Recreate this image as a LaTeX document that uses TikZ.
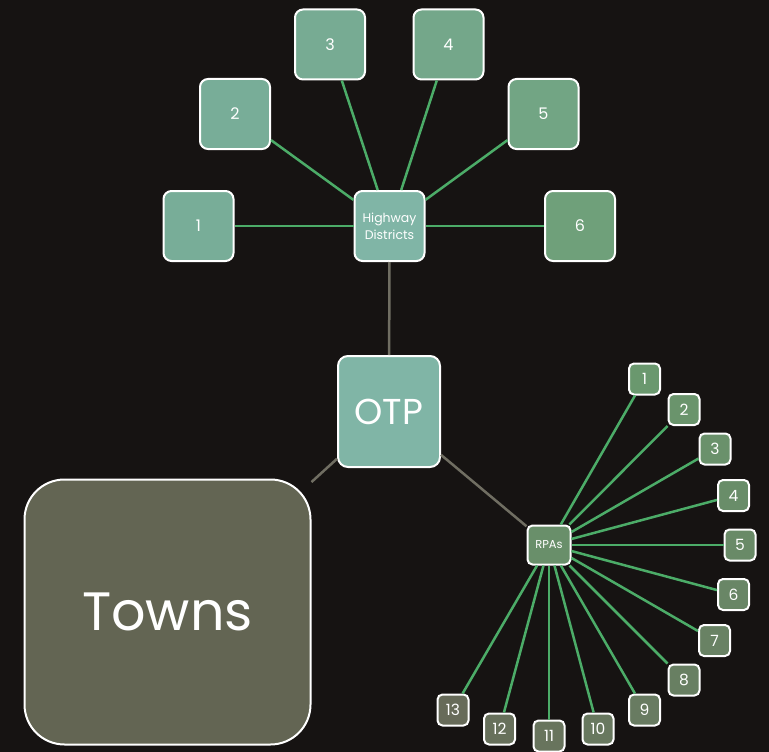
\documentclass[tikz,border=0pt]{standalone}
\usepackage{fontspec}
\setmainfont{Poppins}
\usepackage{xcolor}
\usetikzlibrary{positioning}
\definecolor{bgdark}{RGB}{22, 19, 18}
\definecolor{edgegreen}{RGB}{76, 172, 104}
\definecolor{edgegray}{RGB}{112, 110, 98}
\definecolor{hubteal}{RGB}{128, 181, 166}
\definecolor{distteal}{RGB}{120, 173, 152}
\definecolor{distgreen}{RGB}{111, 160, 122}
\definecolor{rpagreen}{RGB}{106, 152, 110}
\definecolor{rpaolive}{RGB}{103, 107, 89}
\definecolor{townolive}{RGB}{99, 101, 83}

\begin{document}
\begin{tikzpicture}[x=1pt,y=-1pt,
    box/.style={draw=white,line width=2pt,rounded corners=8pt,text=white,inner sep=0pt,align=center},
    distbox/.style={box,minimum width=70pt,minimum height=70pt,font=\fontsize{16}{18}\selectfont},
    rpabox/.style={box,rounded corners=5pt,minimum width=31pt,minimum height=31pt,font=\fontsize{15.5}{16}\selectfont},
    greenedge/.style={edgegreen,line width=2.5pt},
    grayedge/.style={edgegray,line width=2.5pt}]
    % Canvas
    \useasboundingbox (0,0) rectangle (769,752);
    \fill[bgdark] (0,0) rectangle (769,752);

    % Central nodes
    \node[box,fill=hubteal,rounded corners=10pt,minimum width=102pt,minimum height=111pt,font=\fontsize{36}{40}\selectfont] (otp) at (389,411.5) {OTP};
    \node[box,fill=hubteal,minimum width=70pt,minimum height=70pt,font=\fontsize{12.5}{17}\selectfont] (highway) at (389.5,226) {Highway\\Districts};
    \node[box,fill=townolive,rounded corners=40pt,minimum width=286pt,minimum height=265pt,font=\fontsize{54}{60}\selectfont] (towns) at (167.5,612) {Towns};
    \node[box,fill=rpagreen!80!rpaolive,rounded corners=5pt,minimum width=43pt,minimum height=39pt,font=\fontsize{11.5}{13}\selectfont] (rpas) at (549,545) {RPAs};

    % Highway districts
    \node[distbox,fill=distteal] (dist1) at (198.5,226) {1};
    \node[distbox,fill=distteal] (dist2) at (235,114) {2};
    \node[distbox,fill=distteal!85!distgreen] (dist3) at (330,44.5) {3};
    \node[distbox,fill=distteal!55!distgreen] (dist4) at (448.5,44.5) {4};
    \node[distbox,fill=distteal!35!distgreen] (dist5) at (543.5,114) {5};
    \node[distbox,fill=distgreen] (dist6) at (580,226) {6};

    % Regional planning agencies
    \node[rpabox,fill=rpagreen] (rpa1) at (644.5,379) {1};
    \node[rpabox,fill=rpagreen!92!rpaolive] (rpa2) at (684,409.5) {2};
    \node[rpabox,fill=rpagreen!84!rpaolive] (rpa3) at (715,449) {3};
    \node[rpabox,fill=rpagreen!76!rpaolive] (rpa4) at (733.5,495.5) {4};
    \node[rpabox,fill=rpagreen!68!rpaolive] (rpa5) at (740,545) {5};
    \node[rpabox,fill=rpagreen!60!rpaolive] (rpa6) at (733.5,594.5) {6};
    \node[rpabox,fill=rpagreen!52!rpaolive] (rpa7) at (714.5,640.5) {7};
    \node[rpabox,fill=rpagreen!44!rpaolive] (rpa8) at (684,680) {8};
    \node[rpabox,fill=rpagreen!36!rpaolive] (rpa9) at (644.5,710) {9};
    \node[rpabox,fill=rpagreen!28!rpaolive] (rpa10) at (598,729) {10};
    \node[rpabox,fill=rpagreen!20!rpaolive] (rpa11) at (549,736) {11};
    \node[rpabox,fill=rpagreen!10!rpaolive] (rpa12) at (499.5,729) {12};
    \node[rpabox,fill=rpaolive] (rpa13) at (453,710) {13};

    % Connectors
    \draw[grayedge] (highway) -- (otp);
    \draw[grayedge] (otp) -- (towns);
    \draw[grayedge] (otp) -- (rpas);
    \foreach \i in {1,...,6}
        \draw[greenedge] (highway) -- (dist\i);
    \foreach \i in {1,...,13}
        \draw[greenedge] (rpas) -- (rpa\i);
\end{tikzpicture}
\end{document}
